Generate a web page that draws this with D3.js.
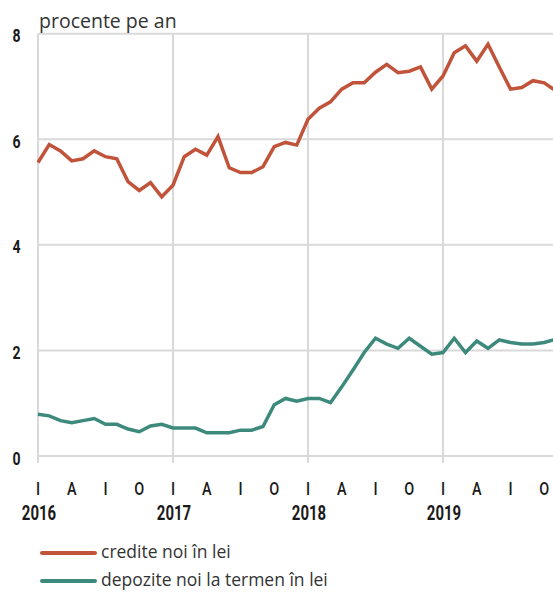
<!DOCTYPE html>
<html>
<head>
<meta charset="utf-8">
<script src="https://cdn.jsdelivr.net/npm/d3@7"></script>
<style>
  html, body { margin: 0; padding: 0; background: #fff; }
  svg { display: block; }
</style>
</head>
<body>
<div id="chart"></div>
<script>
// ---- Data (monthly, Jan 2016 – Nov 2019) ----
const years = ["2016", "2017", "2018", "2019"];
const quarterLabels = ["I", "A", "I", "O"];
const yTicks = [0, 2, 4, 6, 8];
const seriesNames = ["credite noi în lei", "depozite noi la termen în lei"];

const crediteNoi = [
  5.56, 5.90, 5.78, 5.59, 5.63, 5.78, 5.67, 5.63, 5.20, 5.03, 5.18, 4.91,
  5.13, 5.67, 5.81, 5.70, 6.05, 5.46, 5.37, 5.37, 5.48, 5.86, 5.94, 5.89,
  6.38, 6.59, 6.71, 6.95, 7.07, 7.07, 7.27, 7.42, 7.26, 7.29, 7.37, 6.95,
  7.20, 7.64, 7.77, 7.48, 7.80, 7.37, 6.95, 6.98, 7.11, 7.07, 6.92
];
const depoziteNoi = [
  0.79, 0.76, 0.67, 0.63, 0.67, 0.71, 0.60, 0.60, 0.51, 0.46, 0.57, 0.60,
  0.53, 0.53, 0.53, 0.44, 0.44, 0.44, 0.49, 0.49, 0.56, 0.97, 1.09, 1.04,
  1.09, 1.09, 1.01, 1.31, 1.63, 1.96, 2.23, 2.12, 2.04, 2.23, 2.08, 1.93,
  1.96, 2.23, 1.96, 2.18, 2.04, 2.20, 2.15, 2.12, 2.12, 2.15, 2.21
];

const colors = ["#c0533a", "#3d8a7d"];

// ---- Layout ----
const W = 553, H = 594;
const left = 38, rightEdge = 553;
const svg = d3.select("#chart").append("svg")
  .attr("width", W).attr("height", H);

const x = d3.scaleLinear().domain([0, 46]).range([left, left + 46 * 11.25]);
const y = d3.scaleLinear().domain([0, 8]).range([456, 33.7]);

const grid = "#d9d9d9";
const labelFont = "Roboto, 'DejaVu Sans', sans-serif";
const narrow = 0.73;

// horizontal gridlines
svg.append("g").selectAll("line").data(yTicks).join("line")
  .attr("x1", left).attr("x2", rightEdge)
  .attr("y1", d => y(d)).attr("y2", d => y(d))
  .attr("stroke", grid).attr("stroke-width", 2);

// vertical gridlines at year starts (incl. left axis)
const yearIdx = years.map((_, i) => i * 12);
svg.append("g").selectAll("line").data(yearIdx).join("line")
  .attr("x1", d => x(d)).attr("x2", d => x(d))
  .attr("y1", y(8)).attr("y2", y(0) + 7)
  .attr("stroke", grid).attr("stroke-width", 2);

// y labels (condensed)
svg.append("g").selectAll("text").data(yTicks).join("text")
  .attr("transform", d => `translate(20.5,${y(d) + 8.5}) scale(0.76,1)`)
  .attr("text-anchor", "end")
  .style("font-family", labelFont).style("font-size", "18.5px").style("font-weight", "bold")
  .attr("fill", "#1a1a1a")
  .text(d => d);

// x quarter labels
const quarterTicks = [];
years.forEach((yr, i) => quarterLabels.forEach((q, j) => quarterTicks.push({ i: i * 12 + j * 3, label: q })));
svg.append("g").selectAll("text").data(quarterTicks).join("text")
  .attr("transform", d => `translate(${x(d.i)},494.5) scale(0.78,1)`)
  .attr("text-anchor", "middle")
  .style("font-family", labelFont).style("font-size", "18.5px").style("font-weight", "500")
  .attr("fill", "#1a1a1a")
  .text(d => d.label);

// year labels
svg.append("g").selectAll("text").data(years).join("text")
  .attr("transform", (d, i) => `translate(${x(i * 12) + 1},520) scale(${narrow},1)`)
  .attr("text-anchor", "middle")
  .style("font-family", labelFont).style("font-size", "20.5px").style("font-weight", "bold")
  .attr("fill", "#1a1a1a")
  .text(d => d);

// unit title
svg.append("text")
  .attr("x", 39).attr("y", 28)
  .style("font-family", "'Open Sans', sans-serif").style("font-size", "19.5px")
  .attr("fill", "#333")
  .text("procente pe an");

// lines
const line = d3.line().x((d, i) => x(i)).y(d => y(d));
[crediteNoi, depoziteNoi].forEach((s, k) => {
  svg.append("path").datum(s)
    .attr("d", line)
    .attr("fill", "none")
    .attr("stroke", colors[k])
    .attr("stroke-width", 3.5)
    .attr("stroke-linejoin", "miter");
});

// legend
const lg = svg.append("g");
seriesNames.forEach((name, k) => {
  const ly = 553 + k * 28;
  lg.append("line")
    .attr("x1", 42).attr("x2", 95).attr("y1", ly).attr("y2", ly)
    .attr("stroke", colors[k]).attr("stroke-width", 4).attr("stroke-linecap", "round");
  lg.append("text")
    .attr("x", 101).attr("y", ly).attr("dominant-baseline", "middle")
    .style("font-family", "'Open Sans', sans-serif").style("font-size", "17.5px")
    .attr("fill", "#333")
    .text(name);
});
</script>
</body>
</html>
